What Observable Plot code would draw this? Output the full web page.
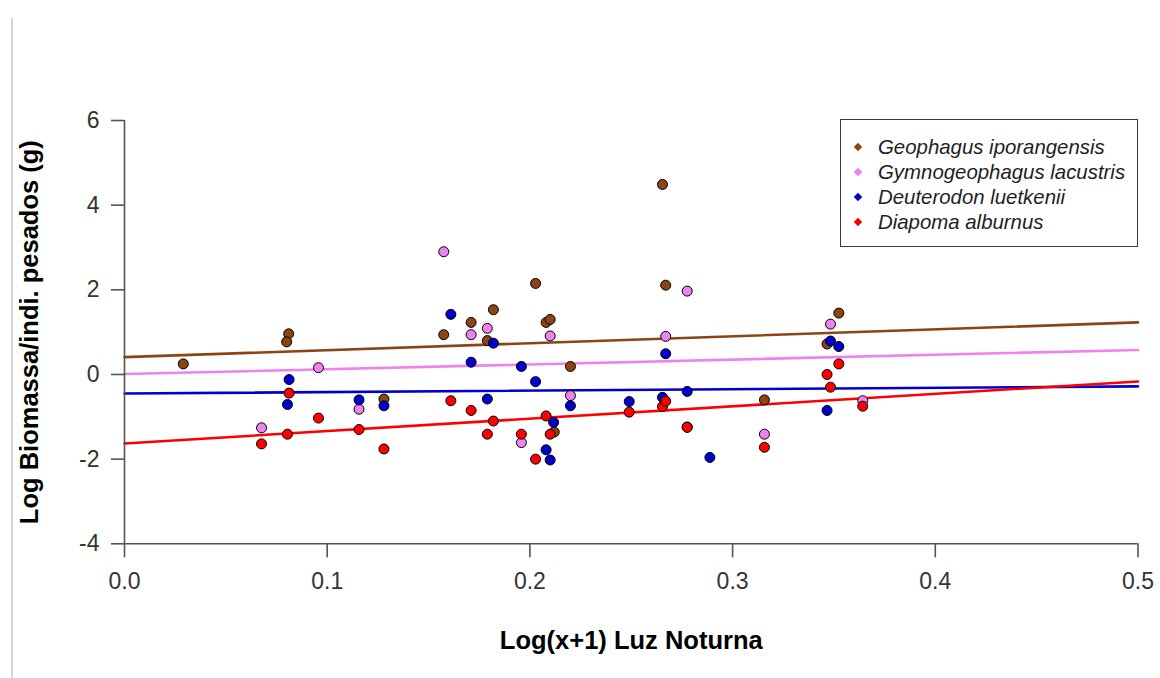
<!DOCTYPE html>
<html>
<head>
<meta charset="utf-8">
<script src="https://cdn.jsdelivr.net/npm/d3@7"></script>
<script src="https://cdn.jsdelivr.net/npm/@observablehq/plot@0.6"></script>
<style>
  body { margin: 0; background: #fff; font-family: "Liberation Sans", Arial, sans-serif; }
  #wrap { position: relative; width: 1160px; height: 678px; overflow: hidden; }
  #edge { position: absolute; left: 11px; top: 18px; width: 2px; height: 660px; background: #d6d6d6; }
  #legend { position: absolute; left: 840px; top: 119px; width: 298px; height: 128px; box-sizing: border-box;
            border: 1.5px solid #3a3a3a; background: #fff; padding-top: 15px; }
  .row { position: relative; height: 25px; line-height: 25px; font-size: 20.4px; font-style: italic; color: #1e1e1e; padding-left: 37px; white-space: nowrap; }
  .mk { position: absolute; left: 14px; top: 9px; width: 6px; height: 6px; transform: rotate(45deg); }
</style>
</head>
<body>
<div id="wrap">
  <div id="edge"></div>
  <div id="chart"></div>
  <div id="legend"></div>
</div>
<script>
// ---- data ----
const species = ["Geophagus iporangensis", "Gymnogeophagus lacustris", "Deuterodon luetkenii", "Diapoma alburnus"];
const colors = ["#8B4513", "#EE82EE", "#0000CD", "#FF0000"];

const geophagusX = [0.029, 0.081, 0.080, 0.128, 0.1575, 0.171, 0.179, 0.182, 0.2028, 0.208, 0.210, 0.212, 0.220, 0.2654, 0.267, 0.2776, 0.3157, 0.3466, 0.3524];
const geophagusY = [0.25, 0.96, 0.77, -0.58, 0.94, 1.23, 0.80, 1.53, 2.15, 1.23, 1.30, -1.36, 0.19, 4.49, 2.11, -1.24, -0.60, 0.72, 1.45];

const gymnoX = [0.0676, 0.0957, 0.1157, 0.1575, 0.171, 0.179, 0.1958, 0.210, 0.220, 0.267, 0.2776, 0.3157, 0.3483, 0.3642];
const gymnoY = [-1.26, 0.16, -0.82, 2.90, 0.94, 1.09, -1.61, 0.91, -0.50, 0.90, 1.97, -1.41, 1.19, -0.62];

const deuterodonX = [0.0812, 0.0804, 0.1157, 0.128, 0.161, 0.171, 0.179, 0.182, 0.1958, 0.2028, 0.208, 0.210, 0.2117, 0.220, 0.249, 0.2654, 0.267, 0.2776, 0.2888, 0.3466, 0.3483, 0.3524];
const deuterodonY = [-0.12, -0.71, -0.60, -0.74, 1.42, 0.29, -0.58, 0.74, 0.19, -0.17, -1.78, -2.02, -1.13, -0.74, -0.64, -0.54, 0.49, -0.40, -1.96, -0.85, 0.79, 0.66];

const diapomaX = [0.0676, 0.0812, 0.0804, 0.0957, 0.1157, 0.128, 0.161, 0.171, 0.179, 0.182, 0.1958, 0.2028, 0.208, 0.210, 0.249, 0.2654, 0.267, 0.2776, 0.3157, 0.3466, 0.3483, 0.3524, 0.3642];
const diapomaY = [-1.64, -0.44, -1.41, -1.03, -1.30, -1.76, -0.62, -0.85, -1.41, -1.10, -1.41, -2.00, -0.98, -1.41, -0.89, -0.76, -0.63, -1.25, -1.72, 0.00, -0.30, 0.25, -0.75];

// fitted regression lines (intercept, slope) per species
const fitIntercept = [0.41, 0.01, -0.45, -1.63];
const fitSlope = [1.64, 1.14, 0.34, 2.93];

const xDomain = [0, 0.5];
const yDomain = [-4, 6];
const xTicks = [0, 0.1, 0.2, 0.3, 0.4, 0.5];
const yTicks = [-4, -2, 0, 2, 4, 6];
const xTitle = "Log(x+1) Luz Noturna";
const yTitle = "Log Biomassa/indi. pesados (g)";

// ---- build tables ----
const seriesX = [geophagusX, gymnoX, deuterodonX, diapomaX];
const seriesY = [geophagusY, gymnoY, deuterodonY, diapomaY];
const points = [];
species.forEach((sp, i) => seriesX[i].forEach((x, j) => points.push({sp, x, y: seriesY[i][j]})));
const fits = species.flatMap((sp, i) => xDomain.map(x => ({sp, x, y: fitIntercept[i] + fitSlope[i] * x})));

const chart = Plot.plot({
  width: 1160,
  height: 678,
  marginLeft: 124,
  marginRight: 22.5,
  marginTop: 120,
  marginBottom: 134.7,
  x: {domain: xDomain},
  y: {domain: yDomain},
  color: {domain: species, range: colors},
  style: {fontFamily: "'Liberation Sans', Arial, sans-serif", background: "transparent", overflow: "visible"},
  marks: [
    Plot.line(fits, {x: "x", y: "y", z: "sp", stroke: "sp", strokeWidth: 2.6}),
    Plot.dot(points, {x: "x", y: "y", fill: "sp", stroke: "black", strokeWidth: 1, r: 5}),
    Plot.ruleY([yDomain[0]], {stroke: "#555", strokeWidth: 1.6}),
    Plot.ruleX([xDomain[0]], {stroke: "#555", strokeWidth: 1.6}),
    Plot.axisX({ticks: xTicks, tickSize: 14, tickPadding: 15, tickFormat: d3.format(".1f"), fontSize: 23, label: null, stroke: "#555", strokeWidth: 1.6, fill: "#333"}),
    Plot.axisY({ticks: yTicks, tickSize: 13, tickPadding: 12, tickFormat: d => String(d), fontSize: 23, label: null, stroke: "#555", strokeWidth: 1.6, fill: "#333"}),
    Plot.text([xTitle], {text: d => d, frameAnchor: "bottom", dy: 97, lineAnchor: "middle", textAnchor: "middle", fontSize: 25.5, fontWeight: "bold", fill: "black"}),
    Plot.text([yTitle], {text: d => d, frameAnchor: "left", dx: -95, rotate: -90, lineAnchor: "middle", textAnchor: "middle", fontSize: 25.5, fontWeight: "bold", fill: "black"})
  ]
});
document.getElementById("chart").appendChild(chart);

// ---- legend ----
const legend = document.getElementById("legend");
species.forEach((sp, i) => {
  const row = document.createElement("div");
  row.className = "row";
  const mk = document.createElement("span");
  mk.className = "mk";
  mk.style.background = colors[i];
  row.appendChild(mk);
  row.appendChild(document.createTextNode(sp));
  legend.appendChild(row);
});
</script>
</body>
</html>
